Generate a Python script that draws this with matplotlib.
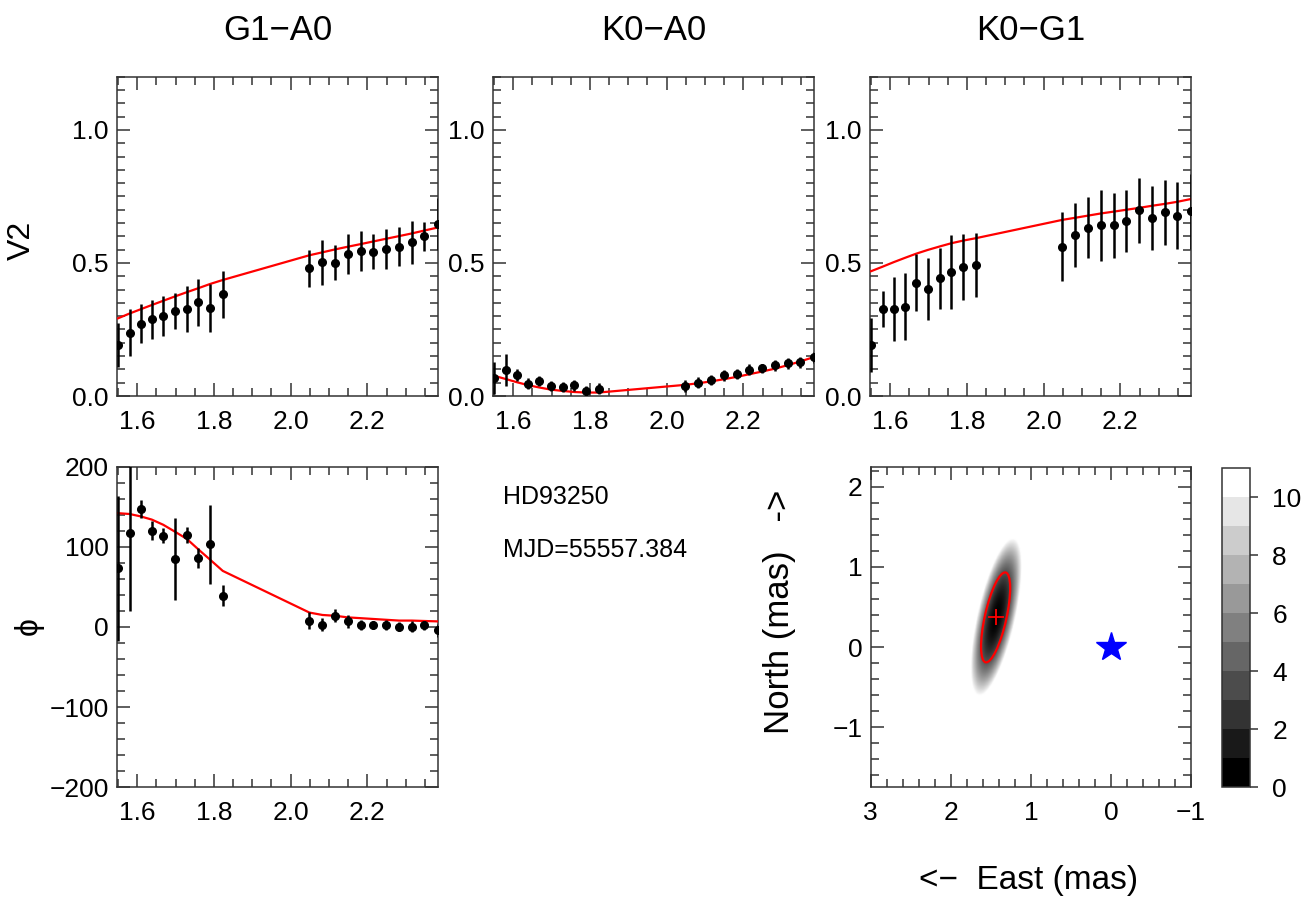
import numpy as np
import matplotlib
matplotlib.use("Agg")
import matplotlib.pyplot as plt
from matplotlib.patches import Ellipse
from matplotlib.ticker import MultipleLocator
from matplotlib.colors import ListedColormap, BoundaryNorm
import matplotlib.cm as cm

plt.rcParams["font.family"] = ["Liberation Sans", "DejaVu Sans"]

# wavelengths (micron), H band then K band
wave_h = [1.550, 1.580, 1.609, 1.638, 1.668, 1.698, 1.729, 1.759, 1.790, 1.823]
wave_k = [2.049, 2.083, 2.116, 2.149, 2.183, 2.216, 2.249, 2.283, 2.316, 2.349, 2.383]
wave = wave_h + wave_k

baselines = ["G1\u2212A0", "K0\u2212A0", "K0\u2212G1"]

v2_obs = [
    [0.192, 0.238, 0.271, 0.288, 0.302, 0.320, 0.327, 0.352, 0.330, 0.383,
     0.480, 0.502, 0.501, 0.533, 0.546, 0.543, 0.551, 0.561, 0.578, 0.600, 0.645],
    [0.069, 0.098, 0.078, 0.046, 0.056, 0.038, 0.034, 0.040, 0.019, 0.028,
     0.038, 0.050, 0.060, 0.078, 0.083, 0.099, 0.104, 0.115, 0.123, 0.127, 0.145],
    [0.192, 0.327, 0.327, 0.336, 0.426, 0.401, 0.442, 0.465, 0.484, 0.492,
     0.561, 0.604, 0.633, 0.642, 0.642, 0.659, 0.698, 0.669, 0.690, 0.677, 0.694],
]
v2_err = [
    [0.083, 0.088, 0.073, 0.072, 0.075, 0.068, 0.086, 0.088, 0.091, 0.088,
     0.069, 0.085, 0.066, 0.076, 0.075, 0.066, 0.075, 0.074, 0.081, 0.054, 0.098],
    [0.060, 0.060, 0.022, 0.020, 0.020, 0.020, 0.020, 0.022, 0.020, 0.020,
     0.022, 0.020, 0.020, 0.020, 0.020, 0.020, 0.018, 0.020, 0.020, 0.020, 0.020],
    [0.100, 0.069, 0.121, 0.125, 0.106, 0.117, 0.115, 0.139, 0.125, 0.119,
     0.130, 0.121, 0.116, 0.133, 0.122, 0.116, 0.123, 0.122, 0.121, 0.126, 0.142],
]
v2_model = [
    [0.292, 0.310, 0.326, 0.342, 0.358, 0.374, 0.390, 0.405, 0.421, 0.436,
     0.529, 0.540, 0.551, 0.561, 0.571, 0.581, 0.591, 0.601, 0.611, 0.622, 0.633],
    [0.076, 0.064, 0.052, 0.041, 0.032, 0.024, 0.019, 0.015, 0.013, 0.013,
     0.042, 0.048, 0.055, 0.063, 0.072, 0.082, 0.092, 0.103, 0.116, 0.130, 0.146],
    [0.469, 0.486, 0.503, 0.519, 0.535, 0.549, 0.562, 0.574, 0.584, 0.593,
     0.662, 0.670, 0.678, 0.686, 0.693, 0.700, 0.707, 0.715, 0.722, 0.730, 0.740],
]

# closure phase (deg)
cp_obs = [73, 117, 147, 120, 114, 85, 115, 86, 103, 39,
          8, 3, 14, 7, 2.5, 3, 2.5, 0.5, 0.5, 2, -4]
cp_err = [90, 97, 11, 12, 9, 51, 10, 12, 49, 13,
          11, 8, 8, 8, 6, 5, 6, 6, 7, 6, 8]
cp_model = [142, 141, 138, 134, 127.5, 119, 110, 97, 84, 70,
            18, 15, 14, 12, 11, 10, 9, 8, 8, 7.5, 7]

# companion fit (mas) and its error ellipse
comp_x, comp_y = 1.44, 0.37
ell_major, ell_minor, ell_angle = 0.574, 0.135, 12.6
chi2_scale = 3.6
star_name = "HD93250"
mjd = 55557.384

TICK = 19


def style(ax, xmaj, xmin, ymaj, ymin):
    ax.xaxis.set_major_locator(MultipleLocator(xmaj))
    ax.xaxis.set_minor_locator(MultipleLocator(xmin))
    ax.yaxis.set_major_locator(MultipleLocator(ymaj))
    ax.yaxis.set_minor_locator(MultipleLocator(ymin))
    ax.tick_params(which="both", direction="in", top=True, right=True,
                   labelsize=TICK, color="#333333", width=1.1)
    ax.tick_params(which="major", length=9.5)
    ax.tick_params(which="minor", length=5.5)
    ax.tick_params(axis="x", pad=10)
    ax.tick_params(axis="y", pad=6)
    for sp in ax.spines.values():
        sp.set_linewidth(1.1)
        sp.set_color("#333333")


fig = plt.figure(figsize=(13.06, 8.98), dpi=100)

W, H = 1306.0, 898.0
lefts = [117.3, 493.3, 870.3]
aw = 321.0

for i in range(3):
    ax = fig.add_axes([lefts[i] / W, (H - 396) / H, aw / W, 319.3 / H])
    ax.plot(wave, v2_model[i], color="red", lw=1.6, zorder=3)
    ax.errorbar(wave, v2_obs[i], yerr=v2_err[i], fmt="o", color="black",
                ms=5.5, elinewidth=1.8, capsize=0, zorder=4)
    ax.set_xlim(1.548, 2.385)
    ax.set_ylim(0, 1.2)
    style(ax, 0.2, 0.05, 0.5, 0.05)
    ax.xaxis.set_major_formatter(plt.FormatStrFormatter("%.1f"))
    ax.yaxis.set_major_formatter(plt.FormatStrFormatter("%.1f"))
    fig.text((lefts[i] + aw / 2) / W, 1 - 30 / H, baselines[i],
             ha="center", va="center", fontsize=25)

fig.text(22 / W, 1 - 240 / H, "V2", rotation=90, ha="center", va="center",
         fontsize=23)

# closure phase panel
axp = fig.add_axes([117.3 / W, (H - 787.3) / H, aw / W, 320.6 / H])
axp.plot(wave, cp_model, color="red", lw=1.6, zorder=3)
axp.errorbar(wave, cp_obs, yerr=cp_err, fmt="o", color="black",
             ms=5.5, elinewidth=1.8, capsize=0, zorder=4)
axp.set_xlim(1.548, 2.385)
axp.set_ylim(-200, 200)
style(axp, 0.2, 0.05, 100, 20)
axp.xaxis.set_major_formatter(plt.FormatStrFormatter("%.1f"))
fig.text(29 / W, 1 - 626 / H, "\u03d5", rotation=90, ha="center", va="center",
         fontsize=23)

fig.text(502.7 / W, 1 - 497 / H, star_name, ha="left", va="center", fontsize=18)
fig.text(502.7 / W, 1 - 550 / H, "MJD=%.3f" % mjd, ha="left", va="center",
         fontsize=18)

# chi2 map of the companion position
axm = fig.add_axes([870.7 / W, (H - 787.3) / H, 320.3 / W, 320.6 / H])
xs = np.linspace(3, -1, 400)
ys = np.linspace(-1.75, 2.25, 400)
X, Y = np.meshgrid(xs, ys)
th = np.radians(ell_angle)
dx, dy = X - comp_x, Y - comp_y
u = -dx * np.sin(th) + dy * np.cos(th)
v = dx * np.cos(th) + dy * np.sin(th)
chi2 = np.clip(chi2_scale * ((u / ell_major) ** 2 + (v / ell_minor) ** 2), 0, 11)
axm.imshow(chi2, extent=(3, -1, -1.75, 2.25), origin="lower", cmap="gray",
           vmin=0, vmax=11, aspect="auto", interpolation="bilinear")
axm.add_patch(Ellipse((comp_x, comp_y), 2 * ell_minor, 2 * ell_major,
                      angle=ell_angle, fill=False, edgecolor="red", lw=1.6,
                      zorder=3))
axm.plot(comp_x, comp_y, marker="+", color="red", ms=12, mew=1.3, zorder=4)
axm.plot(0, 0, marker="*", color="blue", ms=22, mec="blue", zorder=4)
axm.set_xlim(3, -1)
axm.set_ylim(-1.75, 2.25)
style(axm, 1, 0.2, 1, 0.2)
fig.text(780 / W, 1 - 612 / H, "North (mas)   ->", rotation=90, ha="center",
         va="center", fontsize=25)
fig.text(1029 / W, 1 - 880 / H, "<\u2212  East (mas)", ha="center",
         va="center", fontsize=24)

# discrete colorbar
cax = fig.add_axes([1221.7 / W, (H - 787.3) / H, 28.3 / W, 319.0 / H])
levels = np.arange(12)
sm = cm.ScalarMappable(norm=BoundaryNorm(levels, 11),
                       cmap=ListedColormap(plt.cm.gray(np.linspace(0, 1, 11))))
cb = fig.colorbar(sm, cax=cax, ticks=[0, 2, 4, 6, 8, 10])
cb.ax.tick_params(labelsize=TICK, direction="out", length=6, width=1.1,
                  color="#333333", pad=10)
cb.ax.minorticks_off()
cb.outline.set_linewidth(1.1)
cb.outline.set_edgecolor("#333333")

fig.savefig("out.png", dpi=100)
